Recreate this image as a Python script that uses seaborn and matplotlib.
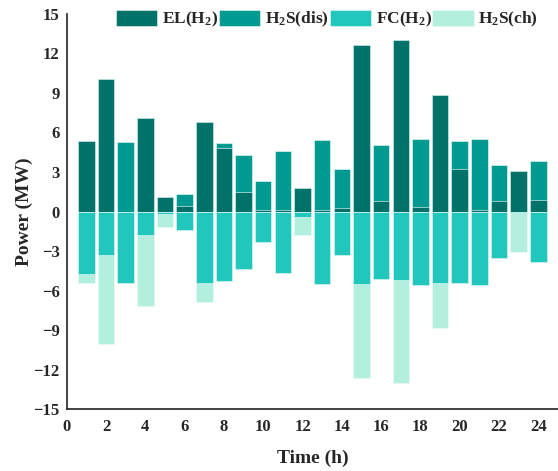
import numpy as np
import pandas as pd
import matplotlib
matplotlib.use("Agg")
import matplotlib.pyplot as plt
import seaborn as sns
from matplotlib.ticker import MultipleLocator, FixedLocator
from matplotlib.patches import Patch

hours = list(range(1, 25))
el_h2 = [5.36, 10.05, 0.0, 7.08, 1.12, 0.45, 6.80, 4.85, 1.50, 0.12, 0.12, 1.75,
         0.12, 0.26, 12.67, 0.80, 13.00, 0.35, 8.81, 3.23, 0.15, 0.80, 3.08, 0.89]
h2s_dis = [0.0, 0.0, 5.31, 0.0, 0.0, 0.90, 0.0, 0.33, 2.77, 2.19, 4.48, 0.0,
           5.29, 2.99, 0.0, 4.28, 0.0, 5.16, 0.0, 2.10, 5.33, 2.70, 0.0, 2.97]
fc_h2 = [-4.75, -3.30, -5.40, -1.78, -0.18, -1.37, -5.46, -5.28, -4.34, -2.33, -4.70, -0.38,
         -5.50, -3.27, -5.50, -5.15, -5.20, -5.61, -5.46, -5.43, -5.58, -3.50, -0.08, -3.85]
h2s_ch = [-0.65, -6.78, 0.0, -5.40, -0.96, 0.0, -1.42, 0.0, 0.0, 0.0, 0.0, -1.40,
          0.0, 0.0, -7.17, 0.0, -7.82, 0.0, -3.37, 0.0, 0.0, 0.0, -3.01, 0.0]
labels = ["EL(H$\\mathregular{_2}$)", "H$\\mathregular{_2}$S(dis)",
          "FC(H$\\mathregular{_2}$)", "H$\\mathregular{_2}$S(ch)"]
colors = ["#00726a", "#009a93", "#21c6bc", "#b3efdf"]

df = pd.DataFrame({"hour": hours, "el": el_h2, "dis": h2s_dis, "fc": fc_h2, "ch": h2s_ch})
df["pos_total"] = df["el"] + df["dis"]
df["neg_total"] = df["fc"] + df["ch"]

sns.set_style("white")
plt.rcParams["font.family"] = ["Liberation Serif", "DejaVu Serif"]
plt.rcParams["font.weight"] = "bold"
plt.rcParams["axes.labelweight"] = "bold"
plt.rcParams["axes.unicode_minus"] = True

fig = plt.figure(figsize=(5.58, 4.71), dpi=100)
ax = fig.add_axes([0.1195, 0.1316, 0.8805, 0.8387])

edge = (0.92, 0.98, 0.97, 0.7)
bar_kw = dict(native_scale=True, width=0.84, edgecolor=edge, linewidth=0.6, ax=ax)
sns.barplot(data=df, x="hour", y="pos_total", color=colors[1], saturation=1, **bar_kw)
sns.barplot(data=df, x="hour", y="el", color=colors[0], saturation=1, **bar_kw)
sns.barplot(data=df, x="hour", y="neg_total", color=colors[3], saturation=1, **bar_kw)
sns.barplot(data=df, x="hour", y="fc", color=colors[2], saturation=1, **bar_kw)

ax.set_xlim(0, 25)
ax.set_ylim(-15, 15)
ax.xaxis.set_major_locator(FixedLocator(np.arange(0, 25, 2)))
ax.xaxis.set_minor_locator(FixedLocator(np.arange(1, 24, 2)))
ax.yaxis.set_major_locator(MultipleLocator(3))
ax.yaxis.set_minor_locator(MultipleLocator(1.5))
ax.set_xticklabels([str(v) for v in range(0, 25, 2)])

for s in ["top", "right"]:
    ax.spines[s].set_visible(False)
for s in ["left", "bottom"]:
    ax.spines[s].set_linewidth(1.2)
    ax.spines[s].set_color("#222222")
ax.tick_params(which="major", direction="in", length=6, width=1.1, labelsize=12, color="#222222", pad=5)
ax.tick_params(axis="x", which="major", pad=7)
ax.tick_params(which="minor", direction="in", length=3, width=1.0, color="#222222")
for lab in ax.get_xticklabels() + ax.get_yticklabels():
    lab.set_fontweight("bold")

ax.set_xlabel("Time (h)", fontsize=14, fontweight="bold", labelpad=11)
ax.set_ylabel("Power (MW)", fontsize=14, fontweight="bold", labelpad=0)

handles = [Patch(facecolor=c, edgecolor=edge, linewidth=0.6) for c in colors]
ax.legend(handles, labels, ncol=4, loc="upper left", bbox_to_anchor=(0.1, 1.01),
          frameon=False, handlelength=2.4, handleheight=1.0,
          handletextpad=0.25, columnspacing=0.05, borderpad=0, borderaxespad=0,
          prop={"weight": "bold", "size": 12.5})

fig.savefig("out.png", dpi=100)
